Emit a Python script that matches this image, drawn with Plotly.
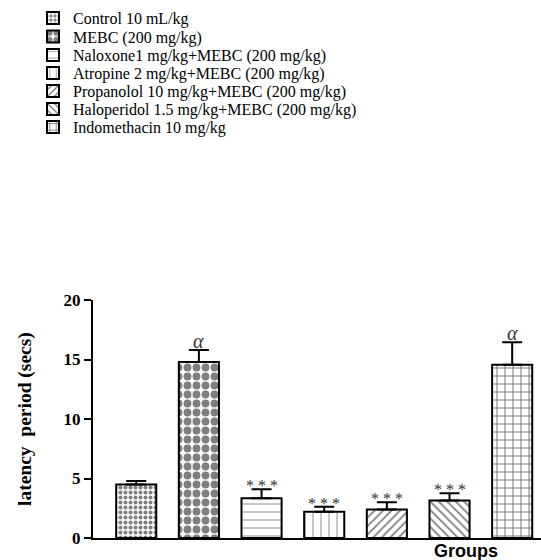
import plotly.graph_objects as go

groups = ["Control 10 mL/kg", "MEBC (200 mg/kg)", "Naloxone1 mg/kg+MEBC (200 mg/kg)",
          "Atropine 2 mg/kg+MEBC (200 mg/kg)", "Propanolol 10 mg/kg+MEBC (200 mg/kg)",
          "Haloperidol 1.5 mg/kg+MEBC (200 mg/kg)", "Indomethacin 10 mg/kg"]
means = [4.5, 14.8, 3.35, 2.2, 2.4, 3.15, 14.55]
sems = [0.3, 1.0, 0.75, 0.42, 0.6, 0.62, 1.9]
marks = ["", "α", "* * *", "* * *", "* * *", "* * *", "α"]
y_ticks = [0, 5, 10, 15, 20]

W, H = 541, 560
PL, PR, PT, PB = 93, 541, 300, 538  # plot area in pixels

patterns = [
    dict(shape=".", size=5, solidity=0.5, fgcolor="black", bgcolor="white"),
    dict(shape=".", size=9, solidity=0.6, fgcolor="black", bgcolor="white"),
    dict(shape="-", size=8, solidity=0.15, fgcolor="#444", bgcolor="white"),
    dict(shape="|", size=8, solidity=0.15, fgcolor="#444", bgcolor="white"),
    dict(shape="/", size=6, solidity=0.3, fgcolor="black", bgcolor="white"),
    dict(shape="\\", size=6, solidity=0.3, fgcolor="black", bgcolor="white"),
    dict(shape="+", size=8, solidity=0.25, fgcolor="black", bgcolor="white"),
]
legend_rows_px = [18, 36.5, 55, 73, 91, 109, 127]

serif = "Liberation Serif"
fig = go.Figure()
for i, g in enumerate(groups):
    lg = "legend" if i == 0 else f"legend{i+1}"
    fig.add_trace(go.Bar(
        x=[g], y=[means[i]], name=g, legend=lg, width=0.64,
        marker=dict(color="white", pattern=patterns[i], line=dict(color="black", width=2)),
        error_y=dict(type="data", array=[sems[i]], arrayminus=[0], symmetric=False,
                     color="black", thickness=2, width=10),
    ))

layout_legends = {}
for i in range(len(groups)):
    lg = "legend" if i == 0 else f"legend{i+1}"
    layout_legends[lg] = dict(
        x=33 / W, y=1 - legend_rows_px[i] / H, xref="paper", yref="paper",
        xanchor="left", yanchor="middle", bgcolor="rgba(0,0,0,0)", borderwidth=0,
        font=dict(family=serif, size=16, color="black"), itemwidth=30,
    )

def px_x(p):
    return p / W

def px_y(p):
    return 1 - p / H

annotations = []
for i, g in enumerate(groups):
    if marks[i]:
        is_alpha = marks[i] == "α"
        annotations.append(dict(
            x=g, y=means[i] + sems[i], xref="x", yref="y",
            text=f"<i>{marks[i]}</i>" if is_alpha else marks[i],
            showarrow=False, yanchor="bottom", xanchor="center", yshift=-4 if is_alpha else -7,
            font=dict(family=serif, size=20 if is_alpha else 16, color="#333"),
        ))
annotations.append(dict(
    x=px_x(25), y=px_y((PT + PB) / 2), xref="paper", yref="paper",
    xanchor="center", yanchor="middle",
    text="<b>latency\u00a0 period (secs)</b>", textangle=-90, showarrow=False,
    font=dict(family=serif, size=19.5, color="black"),
))
annotations.append(dict(
    x=px_x(466), y=px_y(539), xref="paper", yref="paper", text="<b>Groups</b>",
    showarrow=False, xanchor="center", yanchor="top",
    font=dict(family="Liberation Sans", size=18, color="black"),
))

fig.update_layout(
    width=W, height=H, margin=dict(l=0, r=0, t=0, b=0, autoexpand=False),
    paper_bgcolor="white", plot_bgcolor="white", barmode="overlay",
    showlegend=True, annotations=annotations, **layout_legends,
)
fig.update_xaxes(domain=[PL / W, PR / W], range=[-0.69, 6.46], showline=True, linewidth=2,
                 linecolor="black", showticklabels=False, ticks="", showgrid=False, zeroline=False,
                 categoryorder="array", categoryarray=groups)
fig.update_yaxes(domain=[1 - PB / H, 1 - PT / H], range=[0, 20], tickvals=y_ticks, showline=True,
                 linewidth=2, linecolor="black", ticks="outside", ticklen=7, tickwidth=2,
                 tickcolor="black", showgrid=False, zeroline=False,
                 tickfont=dict(family=serif, size=17, color="black", weight="bold"))
fig.write_html("out.html", config={"displayModeBar": False},
               post_script="document.body.style.margin='0';")
